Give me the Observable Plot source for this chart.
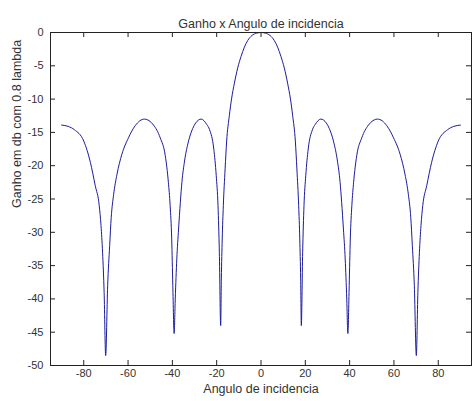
<!DOCTYPE html>
<html>
<head>
<meta charset="utf-8">
<script src="https://cdn.jsdelivr.net/npm/d3@7"></script>
<script src="https://cdn.jsdelivr.net/npm/@observablehq/plot@0.6"></script>
<style>
  body { margin: 0; background: #fff; }
  #chart svg { display: block; }
</style>
</head>
<body>
<div id="chart"></div>
<script>
// Array gain pattern (dB) versus angle of incidence (degrees)
const angles = [
  -90, -87, -84.2, -80, -77, -74.8, -73, -72.2, -71.5, -70.8,
  -70.1, -69.2, -68.3, -67.6, -66.5, -65, -62.8, -59.8, -56.8, -52.6,
  -48.5, -45.5, -43.2, -41.8, -41, -40.3, -39.8, -39.2, -38.7, -38,
  -37.2, -36.4, -35.7, -34.5, -32.7, -30.8, -29.5, -27, -24.5, -23.2,
  -21.3, -20.2, -19.4, -18.8, -18.2, -17.9, -17.5, -17, -16.2, -15.5,
  -14.3, -13.3, -12, -10.5, -9, -7.5, -6, -4.1, -2, 0,
  2, 4.1, 6, 7.5, 9, 10.5, 12, 13.3, 14.3, 15.5,
  16.2, 17, 17.5, 17.9, 18.2, 18.8, 19.4, 20.2, 21.3, 23.2,
  24.5, 27, 29.5, 30.8, 32.7, 34.5, 35.7, 36.4, 37.2, 38,
  38.7, 39.2, 39.8, 40.3, 41, 41.8, 43.2, 45.5, 48.5, 52.6,
  56.8, 59.8, 62.8, 65, 66.5, 67.6, 68.3, 69.2, 70.1, 70.8,
  71.5, 72.2, 73, 74.8, 77, 80, 84.2, 87, 90
];
const gains = [
  -13.9, -14.1, -14.6, -16.3, -19.5, -23, -26, -29, -33, -39,
  -48.5, -38, -32, -27.8, -24.3, -21.3, -18.3, -15.8, -14.0, -13.0,
  -13.9, -15.8, -18.5, -22.5, -26, -31, -38, -45.2, -40, -34,
  -29.5, -25.5, -22.5, -19.3, -16.3, -14.4, -13.6, -13.0, -13.8, -14.6,
  -17.5, -21.5, -26, -33, -44, -37, -31, -26, -20.5, -16.3,
  -12.5, -10, -7.6, -5.3, -3.6, -2.2, -1.2, -0.45, -0.1, 0,
  -0.1, -0.45, -1.2, -2.2, -3.6, -5.3, -7.6, -10, -12.5, -16.3,
  -20.5, -26, -31, -37, -44, -33, -26, -21.5, -17.5, -14.6,
  -13.8, -13.0, -13.6, -14.4, -16.3, -19.3, -22.5, -25.5, -29.5, -34,
  -40, -45.2, -38, -31, -26, -22.5, -18.5, -15.8, -13.9, -13.0,
  -14.0, -15.8, -18.3, -21.3, -24.3, -27.8, -32, -38, -48.5, -39,
  -33, -29, -26, -23, -19.5, -16.3, -14.6, -14.1, -13.9
];
const xTicks = [-80, -60, -40, -20, 0, 20, 40, 60, 80];
const yTicks = [0, -5, -10, -15, -20, -25, -30, -35, -40, -45, -50];
const title = "Ganho x Angulo de incidencia";
const xLabel = "Angulo de incidencia";
const yLabel = "Ganho em db com 0.8 lambda";

const data = angles.map((a, i) => ({angle: a, gain: gains[i]}));

const W = 472, H = 401;
const mt = 32, mb = 36, ml = 50, mr = 1;
const plotW = W - ml - mr, plotH = H - mt - mb;
const tickLen = 5;
const ink = "#222";

const chart = Plot.plot({
  width: W,
  height: H,
  marginTop: mt,
  marginBottom: mb,
  marginLeft: ml,
  marginRight: mr,
  style: {fontFamily: "'Liberation Sans', Arial, Helvetica, sans-serif", fontSize: "11px", color: "#333", background: "#fff"},
  x: {domain: [-95, 95]},
  y: {domain: [-50, 0]},
  marks: [
    // inward ticks on all four sides of the box
    Plot.tickX(xTicks, {x: d => d, insetTop: plotH - tickLen, stroke: ink}),
    Plot.tickX(xTicks, {x: d => d, insetBottom: plotH - tickLen, stroke: ink}),
    Plot.tickY(yTicks, {y: d => d, insetRight: plotW - tickLen, stroke: ink}),
    Plot.tickY(yTicks, {y: d => d, insetLeft: plotW - tickLen, stroke: ink}),
    Plot.axisX(xTicks, {tickSize: 0, tickPadding: 4, tickFormat: d => String(d), label: null}),
    Plot.axisY(yTicks, {tickSize: 0, tickPadding: 7, tickFormat: d => String(d), label: null}),
    Plot.line(data, {x: "angle", y: "gain", stroke: "#1b1b9c", strokeWidth: 1, curve: "monotone-x"}),
    Plot.frame({stroke: ink}),
    Plot.text([title], {text: d => d, frameAnchor: "top", dy: -13, fontSize: 12.5}),
    Plot.text([xLabel], {text: d => d, frameAnchor: "bottom", dy: 27, fontSize: 12.5}),
    Plot.text([yLabel], {text: d => d, frameAnchor: "left", dx: -34, dy: 9, rotate: -90, fontSize: 12.5})
  ]
});

document.getElementById("chart").appendChild(chart);
</script>
</body>
</html>
